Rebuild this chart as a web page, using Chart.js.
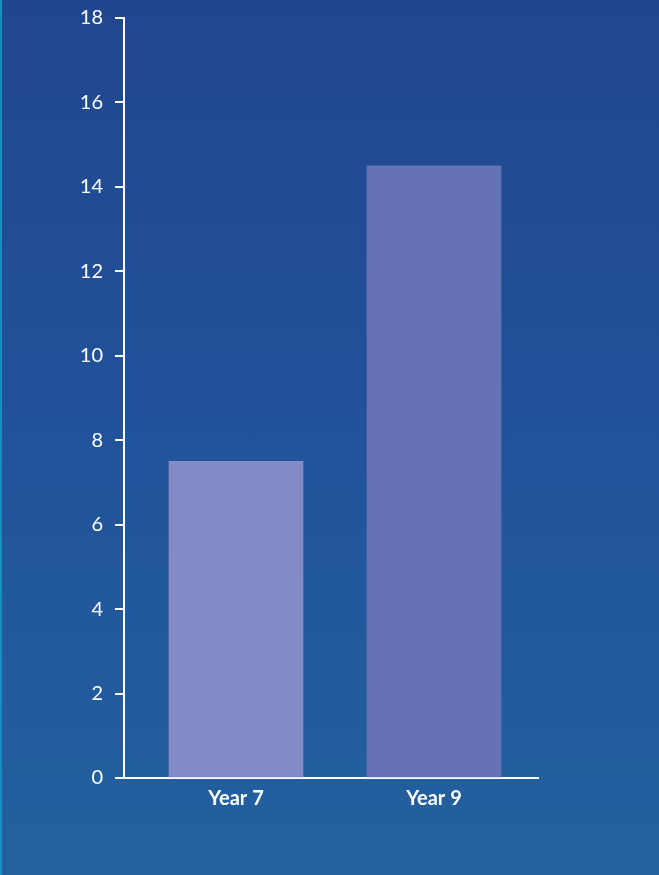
<!DOCTYPE html>
<html>
<head>
<meta charset="utf-8">
<script src="https://cdn.jsdelivr.net/npm/chart.js@4"></script>
<style>
  html, body { margin: 0; padding: 0; }
  body {
    width: 659px; height: 875px; overflow: hidden;
    background: linear-gradient(to bottom, #21468f 0%, #21539a 50%, #23619e 100%);
    position: relative;
  }
  .edge { position: absolute; left: 0; top: 0; width: 2px; height: 875px; background: #1b8cc2; }
  #wrap { position: absolute; left: 0; top: 0; width: 659px; height: 875px; }
</style>
</head>
<body>
<div class="edge"></div>
<div id="wrap"><canvas id="c" width="659" height="875"></canvas></div>
<script>
const categories = ["Year 7", "Year 9"];
const values = [7.5, 14.5];
const barColors = ["#838ac6", "#6572b4"];
const yTicks = [0, 2, 4, 6, 8, 10, 12, 14, 16, 18];

const points = categories.map((c, i) => ({ x: i + 1, y: values[i] }));

new Chart(document.getElementById("c"), {
  type: "bar",
  data: {
    datasets: [{
      data: points,
      backgroundColor: barColors,
      borderWidth: 0,
      barThickness: 134
    }]
  },
  options: {
    responsive: false,
    animation: false,
    devicePixelRatio: 1,
    layout: { padding: { top: 18, right: 121, bottom: 0, left: 0 } },
    plugins: { legend: { display: false }, tooltip: { enabled: false } },
    scales: {
      x: {
        type: "linear",
        offset: false,
        min: 1 - 112 / 198,
        max: 2 + 104 / 198,
        afterBuildTicks: (s) => { s.ticks = categories.map((c, i) => ({ value: i + 1 })); },
        afterFit: (s) => { s.height = 97; s.paddingLeft = 0; s.paddingRight = 0; },
        grid: { display: true, offset: false, drawOnChartArea: false, drawTicks: false },
        border: { display: true, color: "#ffffff", width: 2 },
        ticks: {
          color: "#ffffff",
          padding: 9,
          font: { family: "Lato", size: 20, weight: "bold" },
          callback: (v) => categories[v - 1] || ""
        }
      },
      y: {
        min: 0,
        max: 18,
        afterBuildTicks: (s) => { s.ticks = yTicks.map(v => ({ value: v })); },
        afterFit: (s) => { s.width = 124; s.paddingTop = 0; s.paddingBottom = 0; },
        grid: { display: true, drawOnChartArea: false, drawTicks: true, tickLength: 9, color: "#ffffff", lineWidth: 2 },
        border: { display: true, color: "#ffffff", width: 2 },
        ticks: {
          color: "#ffffff",
          padding: 12,
          font: { family: "Lato", size: 20 }
        }
      }
    }
  }
});
</script>
</body>
</html>
